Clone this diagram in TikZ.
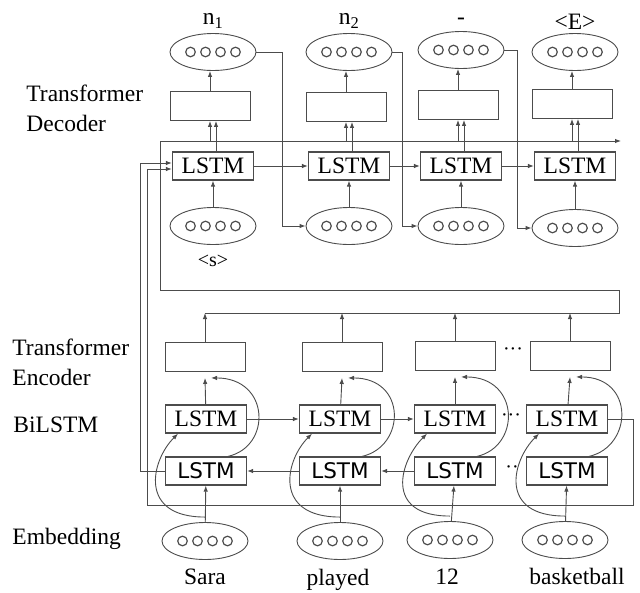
\documentclass[tikz,border=0pt]{standalone}
\usepackage{fontspec}
\setmainfont{Liberation Serif}
\newfontfamily\lstmsans{DejaVu Sans}
\usetikzlibrary{arrows.meta, positioning, shapes.geometric}

\begin{document}
\begin{tikzpicture}[
                    x=1pt, y=-1pt,
                    >={Latex[length=6pt,width=4.5pt]},
                    line width=0.9pt,
                    draw=black!70,
                    font=\fontsize{23.5}{30}\selectfont
                ]
                \tikzset{
                    vecnode/.style = {ellipse, draw, minimum width=86pt, minimum height=37pt, inner sep=0pt},
                    tfbox/.style = {rectangle, draw, minimum width=80pt, minimum height=29pt},
                    lstmbox/.style = {rectangle, draw, line width=1.2pt, minimum width=81pt, minimum height=28pt, inner sep=0pt},
                    bwbox/.style = {lstmbox, font=\lstmsans\fontsize{21.5}{24}\selectfont},
                    ring/.style = {-, line width=1.2pt},
                    sidelabel/.style = {anchor=west, align=left, inner sep=0pt},
                    word/.style = {inner sep=0pt},
                    gap/.style = {inner sep=0pt, font=\fontsize{20}{20}\selectfont}
                }
                \useasboundingbox (0,0) rectangle (640,592);

                % Side labels
                \node[sidelabel] (declab) at (26,108) {Transformer\\Decoder};
                \node[sidelabel] (enclab) at (12,362) {Transformer\\Encoder};
                \node[sidelabel] (bilab) at (13,425) {BiLSTM};
                \node[sidelabel] (emblab) at (12,539) {Embedding};

                % Decoder outputs
                \node[vecnode] (o1) at (213,52) {};
                \node[vecnode] (o2) at (349,52) {};
                \node[vecnode] (o3) at (461,50) {};
                \node[vecnode] (o4) at (575,52) {};
                \node[word, above=4pt of o1] (n1) {n\textsubscript{1}};
                \node[word, above=4pt of o2] (n2) {n\textsubscript{2}};
                \node[word, above=6pt of o3] (dash) {-};
                \node[word, above=3pt of o4] (eos) {<E>};

                % Decoder blocks and LSTMs
                \node[tfbox] (db1) at (210,106) {};
                \node[tfbox] (db2) at (346,107) {};
                \node[tfbox] (db3) at (458,105) {};
                \node[tfbox] (db4) at (572,104) {};
                \node[lstmbox] (dl1) at (213,166) {LSTM};
                \node[lstmbox] (dl2) at (349,166) {LSTM};
                \node[lstmbox] (dl3) at (461,166) {LSTM};
                \node[lstmbox] (dl4) at (575,166) {LSTM};

                % Decoder inputs
                \node[vecnode] (di1) at (213,226) {};
                \node[vecnode] (di2) at (349,226) {};
                \node[vecnode] (di3) at (461,226) {};
                \node[vecnode] (di4) at (575,228) {};
                \node[word, below=10pt of di1, font=\fontsize{20}{24}\selectfont] (sos) {<s>};

                % Encoder blocks, BiLSTM, embeddings
                \node[tfbox] (eb1) at (205,357) {};
                \node[tfbox] (eb2) at (342,357) {};
                \node[tfbox] (eb3) at (455,356) {};
                \node[tfbox] (eb4) at (570,356) {};
                \node[lstmbox] (fl1) at (206,419) {LSTM};
                \node[lstmbox] (fl2) at (340,419) {LSTM};
                \node[lstmbox] (fl3) at (455,419) {LSTM};
                \node[lstmbox] (fl4) at (567,419) {LSTM};
                \node[bwbox] (bw1) at (206,471) {LSTM};
                \node[bwbox] (bw2) at (340,471) {LSTM};
                \node[bwbox] (bw3) at (455,471) {LSTM};
                \node[bwbox] (bw4) at (567,471) {LSTM};
                \node[vecnode] (emb1) at (205,541) {};
                \node[vecnode] (emb2) at (340,541) {};
                \node[vecnode] (emb3) at (450,540) {};
                \node[vecnode] (emb4) at (565,540) {};
                \node[word, below=9pt of emb1] (w1) {Sara};
                \node[word, below=9pt of emb2, xshift=-2pt] (w2) {played};
                \node[word, below=10pt of emb3, xshift=-3pt] (w3) {12};
                \node[word, below=9pt of emb4, xshift=12pt] (w4) {basketball};

                \node[gap] (edots) at (513,352) {\textperiodcentered\textperiodcentered\textperiodcentered};
                \node[gap] (fdots) at (511,418) {\textperiodcentered\textperiodcentered\textperiodcentered};
                \node[gap] (bdots) at (512,470) {\textperiodcentered\textperiodcentered};

                % the four small units in every vector
                \foreach \v in {o1,o2,o3,o4,di1,di2,di3,di4,emb1,emb2,emb3,emb4}
                    \foreach \k in {-22.5,-7.5,7.5,22.5}
                        \draw[ring] ([xshift=\k pt]\v.center) circle[radius=4.8pt];

                % Decoder connections
                \foreach \i in {1,...,4} {
                    \draw[->] (di\i) -- (dl\i);
                    \draw[->] ([xshift=3pt]dl\i.north) -- ([xshift=3pt]dl\i.north |- db\i.south);
                    \draw[->] (db\i.north) -- (db\i.north |- o\i.south);
                }
                \draw[->] (dl1) -- (dl2);
                \draw[->] (dl2) -- (dl3);
                \draw[->] (dl3) -- (dl4);
                \draw[->] (o1.east) -- ++(26,0) |- (di2.west);
                \draw[->] (o2.east) -- ++(10,0) |- (di3.west);
                \draw[->] (o3.east) -- ++(13,0) |- (di4.west);

                % Encoder output loop into the decoder
                \coordinate (ctxL) at (160,141);
                \coordinate (ctxR) at (621,141);
                \coordinate (loopL) at (160,290);
                \coordinate (encR) at (619,313);
                \foreach \i in {1,...,4} {
                    \draw[->] (eb\i.north) -- (eb\i.north |- encR);
                    \draw[->] ([xshift=-3pt]dl\i.north |- ctxL) -- ([xshift=-3pt]dl\i.north |- db\i.south);
                }
                \draw[->] (eb1.north |- encR) -- (encR) |- (loopL) -- (ctxL) -- (ctxR);

                % BiLSTM connections
                \foreach \i in {1,...,4} {
                    \coordinate (j\i) at ([yshift=-6pt]eb\i.south);
                    \coordinate (e\i) at ([yshift=5pt]emb\i.north);
                    \draw[->] (fl\i) -- (j\i);
                    \draw[->] (emb\i) -- (bw\i);
                    \draw[->] ([xshift=22pt]bw\i.north) .. controls +(44,-10) and +(59,0) .. ([xshift=6pt]j\i);
                    \draw[->] (e\i) .. controls +(-67,0) and +(-27,27) .. ([xshift=-28pt]fl\i.south);
                }
                \draw[->] (fl1) -- (fl2);
                \draw[->] (fl2) -- (fl3);
                \draw[->] (bw2) -- (bw1);
                \draw[->] (bw3) -- (bw2);

                % Final states to the first decoder LSTM
                \coordinate (bwleft) at (140,471);
                \coordinate (flright) at (633,505);
                \coordinate (flleft) at (147,505);
                \draw[->] (bw1) -- (bwleft) |- ([yshift=3pt]dl1.west);
                \draw[->] (fl4) -| (flright) -- (flleft) |- ([yshift=-3pt]dl1.west);

            \end{tikzpicture}
\end{document}
